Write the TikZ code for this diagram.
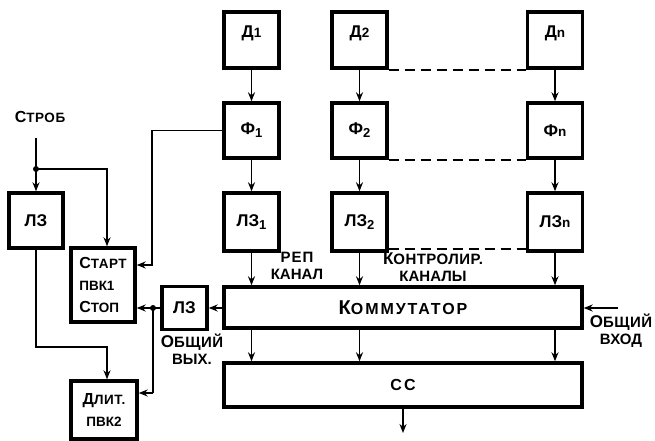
\documentclass[tikz,border=0pt]{standalone}
\usepackage{fontspec}
\setmainfont{Liberation Sans}
\usetikzlibrary{arrows.meta}
\newcommand\subx[1]{\raisebox{-3pt}{\fontsize{13}{13}\selectfont #1}}
\newcommand\smz[1]{{\fontsize{13.5}{13.5}\selectfont #1}}
\begin{document}
\begin{tikzpicture}[x=1pt,y=-1pt,
 box/.style={draw,line width=3.4pt,inner sep=0pt,font=\bfseries\fontsize{17}{18}\selectfont},
 dbox/.style={box,minimum width=55pt,minimum height=56pt,text height=12pt,text depth=16pt},
 fbox/.style={box,minimum width=55pt,minimum height=55pt},
 lbox/.style={box,minimum width=55pt,minimum height=58pt},
 wide/.style={box,minimum width=358pt},
 conn/.style={line width=1.8pt,-{Stealth[length=9pt,width=7pt]}},
 ln/.style={line width=1.8pt},
 dsh/.style={line width=1.8pt,dash pattern=on 10pt off 6pt},
 lab/.style={font=\bfseries\fontsize{15}{17}\selectfont,inner sep=0pt,align=center}]
\useasboundingbox (0,0) rectangle (655,441);
% columns
\node[dbox] (d1) at (251.5,40) {Д\smz{1}};
\node[dbox] (d2) at (359.5,40) {Д\smz{2}};
\node[dbox] (dn) at (555,40) {Д\smz{n}};
\node[fbox] (f1) at (251.5,130.5) {Ф\subx{1}};
\node[fbox] (f2) at (359.5,130.5) {Ф\subx{2}};
\node[fbox] (fn) at (555,130.5) {Ф\smz{n}};
\node[lbox] (l1) at (251.5,222) {ЛЗ\subx{1}};
\node[lbox] (l2) at (359.5,222) {ЛЗ\subx{2}};
\node[lbox] (ln) at (555,222) {ЛЗ\smz{n}};
\node[wide,minimum height=41pt] (komm) at (403,307.5)
  {\addfontfeatures{LetterSpace=12}{\fontsize{20}{20}\selectfont К}{\fontsize{16}{16}\selectfont ОММУТАТОР}};
\node[wide,minimum height=44pt] (cc) at (403,385)
  {\addfontfeatures{LetterSpace=14}{\fontsize{16}{16}\selectfont СС}};
% left part
\node[box,minimum width=54pt,minimum height=55pt] (lzl) at (36,220.5) {ЛЗ};
\node[box,minimum width=64pt,minimum height=74pt,align=left,font=\bfseries\fontsize{16}{22}\selectfont] (start) at (103,285)
  {\addfontfeatures{LetterSpace=4}С\smz{ТАРТ}\\\smz{ПВК1}\\С\smz{ТОП}};
\node[box,minimum width=45pt,minimum height=43pt] (lzs) at (184.5,308) {ЛЗ};
\node[box,minimum width=66pt,minimum height=58pt,align=center,font=\bfseries\fontsize{16}{22}\selectfont] (dlit) at (104,410)
  {\addfontfeatures{LetterSpace=4}Д\smz{ЛИТ.}\\\smz{ПВК2}};
% vertical connectors in columns
\foreach \c in {1,2,n}{
  \draw[conn] (d\c.south) -- (f\c.north);
  \draw[conn] (f\c.south) -- (l\c.north);
  \draw[conn] (l\c.south) -- (l\c.south |- komm.north);
  \draw[conn] (komm.south -| l\c.south) -- (cc.north -| l\c.south);
}
% dashed links
\draw[dsh] (d2.south east) -- (dn.south west);
\draw[dsh] (f2.south east) -- (fn.south west);
\draw[dsh] ([yshift=4pt]l2.south east) -- ([yshift=4pt]ln.south west);
% output and common input
\coordinate (out) at (403,433);
\draw[conn] (cc.south) -- (out);
\coordinate (cin) at (618,308);
\draw[conn] (cin) -- (cin -| komm.east);
% commutator to LZ small
\draw[conn] (lzs.east -| komm.west) -- (lzs.east);
\coordinate (j2) at (153,308);
\draw[conn] (lzs.west) -- (lzs.west -| start.east);
\coordinate (jd) at (153,393);
\draw[ln] (j2) -- (jd);
\draw[conn] (jd) -- (jd -| dlit.east);
\fill (j2) circle (3pt);
% F1 to start
\coordinate (fb) at (152,265);
\draw[conn] (f1.west) -| (fb) -- (fb -| start.east);
% strobe
\coordinate (s0) at (36,138);
\coordinate (s1) at (36,169);
\coordinate (sa) at (107,169);
\draw[ln] (s0) -- (s1);
\draw[conn] (s1) -- (lzl.north);
\draw[conn] (s1) -- (sa) -- (sa |- start.north);
\fill (s1) circle (3pt);
\coordinate (lb) at (36,347);
\coordinate (lc) at (107,347);
\draw[conn] (lzl.south) -- (lb) -- (lc) -- (lc |- dlit.north);
% labels
\node[lab,font=\bfseries\fontsize{16}{17}\selectfont] (strob) at (40,117) {\addfontfeatures{LetterSpace=4}С\smz{ТРОБ}};
\node[lab] (rep) at (297,266) {\addfontfeatures{LetterSpace=6}РЕП\\КАНАЛ};
\node[lab] (kontr) at (433,267) {\addfontfeatures{LetterSpace=3}{\fontsize{17}{17}\selectfont К}ОНТРОЛИР.\\КАНАЛЫ};
\node[lab] (vhod) at (621,331) {\addfontfeatures{LetterSpace=3}{\fontsize{17}{17}\selectfont О}БЩИЙ\\ВХОД};
\node[lab] (vyh) at (192,349) {\addfontfeatures{LetterSpace=3}{\fontsize{17}{17}\selectfont О}БЩИЙ\\ВЫХ.};
\end{tikzpicture}
\end{document}
